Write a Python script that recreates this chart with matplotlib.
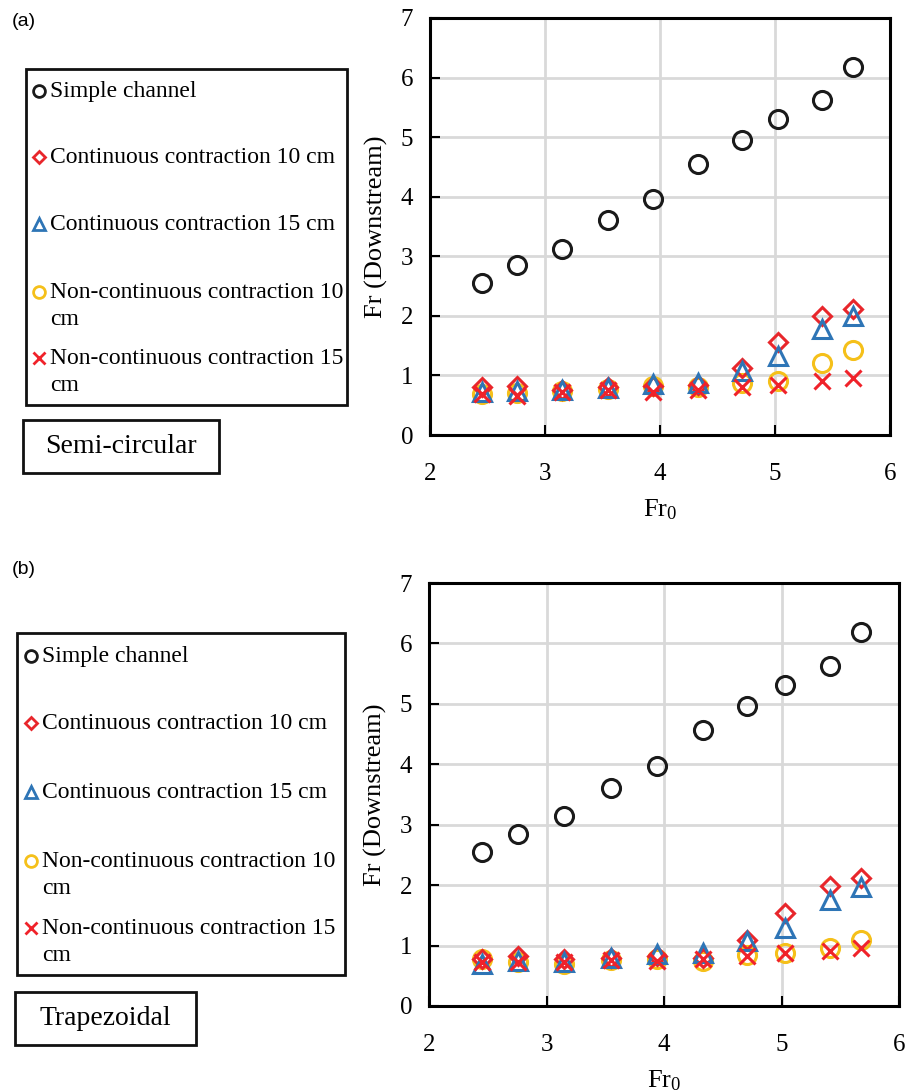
import matplotlib
matplotlib.use('Agg')
import matplotlib.pyplot as plt
from matplotlib.lines import Line2D
from matplotlib.patches import Rectangle

plt.rcParams['font.family'] = ['Liberation Serif', 'DejaVu Serif']
plt.rcParams['mathtext.fontset'] = 'custom'
plt.rcParams['mathtext.rm'] = 'Liberation Serif'
plt.rcParams['mathtext.it'] = 'Liberation Serif'

# inlet Froude number (same runs for both sections)
fr0 = [2.45, 2.76, 3.15, 3.55, 3.94, 4.33, 4.71, 5.03, 5.41, 5.68]

labels = ['Simple channel',
          'Continuous contraction 10 cm',
          'Continuous contraction 15 cm',
          'Non-continuous contraction 10\ncm',
          'Non-continuous contraction 15\ncm']

# (a) semi-circular section, downstream Froude number
semi_simple = [2.55, 2.85, 3.13, 3.61, 3.97, 4.55, 4.95, 5.30, 5.62, 6.18]
semi_cc10 = [0.80, 0.82, 0.76, 0.80, 0.83, 0.84, 1.12, 1.56, 2.00, 2.12]
semi_cc15 = [0.72, 0.74, 0.76, 0.79, 0.85, 0.87, 1.07, 1.32, 1.78, 1.99]
semi_nc10 = [0.68, 0.70, 0.74, 0.78, 0.82, 0.80, 0.88, 0.91, 1.21, 1.42]
semi_nc15 = [0.68, 0.66, 0.72, 0.75, 0.72, 0.75, 0.80, 0.84, 0.91, 0.95]

# (b) trapezoidal section
trap_simple = [2.55, 2.84, 3.14, 3.61, 3.97, 4.56, 4.96, 5.31, 5.63, 6.19]
trap_cc10 = [0.78, 0.82, 0.77, 0.80, 0.82, 0.80, 1.10, 1.54, 1.99, 2.12]
trap_cc15 = [0.70, 0.74, 0.72, 0.80, 0.86, 0.88, 1.07, 1.29, 1.76, 1.97]
trap_nc10 = [0.78, 0.72, 0.70, 0.76, 0.78, 0.74, 0.84, 0.87, 0.96, 1.10]
trap_nc15 = [0.72, 0.72, 0.72, 0.76, 0.74, 0.77, 0.82, 0.87, 0.91, 0.96]

# marker, color, size for each series, in drawing order
styles = [('o', '#1a1a1a', 13),
          ('D', '#e8262b', 9.5),
          ('^', '#2e75b6', 12.5),
          ('o', '#f5c01a', 13),
          ('x', '#f0222a', 12)]
draw_order = [0, 3, 1, 2, 4]

W, H = 907, 1091
fig = plt.figure(figsize=(W / 100, H / 100), dpi=100)


def px_axes(l, t, r, b):
    return fig.add_axes([l / W, 1 - b / H, (r - l) / W, (b - t) / H])


def scatter_panel(ax, series):
    for i in draw_order:
        m, c, s = styles[i]
        if m == 'x':
            ax.plot(fr0, series[i], ls='none', marker=m, ms=s, mew=2.2,
                    color=c, zorder=3)
        else:
            ax.plot(fr0, series[i], ls='none', marker=m, ms=s, mew=2.2,
                    mfc='none', mec=c, zorder=3)
    ax.set_xlim(2, 6)
    ax.set_ylim(0, 7)
    ax.set_xticks([2, 3, 4, 5, 6])
    ax.set_yticks(range(8))
    ax.grid(True, color='#d9d9d9', lw=2)
    ax.set_axisbelow(True)
    for sp in ax.spines.values():
        sp.set_linewidth(2.2)
    ax.tick_params(direction='in', length=7, width=1.5, labelsize=18)
    ax.tick_params(axis='x', pad=20)
    ax.tick_params(axis='y', pad=12)
    ax.set_ylabel('Fr (Downstream)', fontsize=19, labelpad=9)
    ax.set_xlabel('Fr$_0$', fontsize=19, labelpad=9)


ax1 = px_axes(430, 18, 890, 435)
scatter_panel(ax1, [semi_simple, semi_cc10, semi_cc15, semi_nc10, semi_nc15])
ax2 = px_axes(429, 583, 899, 1006)
scatter_panel(ax2, [trap_simple, trap_cc10, trap_cc15, trap_nc10, trap_nc15])

# hand-drawn legend boxes on an overlay in pixel coordinates
ov = fig.add_axes([0, 0, 1, 1], zorder=-1)
ov.set_xlim(0, W)
ov.set_ylim(H, 0)
ov.axis('off')


def legend_block(box, rows, mark_x, text_x, tag, tag_xy, name, name_box):
    l, t, r, b = box
    ov.add_patch(Rectangle((l, t), r - l, b - t, fill=False, ec='#111111', lw=2))
    for i, y in enumerate(rows):
        m, c, s = styles[i]
        if m == 'x':
            ov.add_line(Line2D([mark_x], [y], marker='x', ms=8.5, mew=2, color=c))
        else:
            ov.add_line(Line2D([mark_x], [y], marker=m, ms=8.5 if m != 'D' else 6.5,
                               mew=2, mfc='none', mec=c))
        ov.text(text_x, y - 10, labels[i], fontsize=17, va='top', ha='left',
                linespacing=1.4)
    ov.text(tag_xy[0], tag_xy[1], tag, fontsize=14, family='Liberation Sans',
            va='center', ha='left')
    nl, nt, nr, nb = name_box
    ov.add_patch(Rectangle((nl, nt), nr - nl, nb - nt, fill=False, ec='#111111', lw=2))
    ov.text((nl + nr) / 2, (nt + nb) / 2, name, fontsize=20, ha='center', va='center')


legend_block((26, 69, 347, 405), [91, 157, 224, 292, 358], 39, 50,
             '(a)', (12, 21), 'Semi-circular', (23, 420, 219, 473))
legend_block((17, 633, 345, 975), [656, 723, 792, 861, 928], 31, 42,
             '(b)', (12, 569), 'Trapezoidal', (15, 992, 196, 1045))

fig.savefig('out.png', dpi=100)
